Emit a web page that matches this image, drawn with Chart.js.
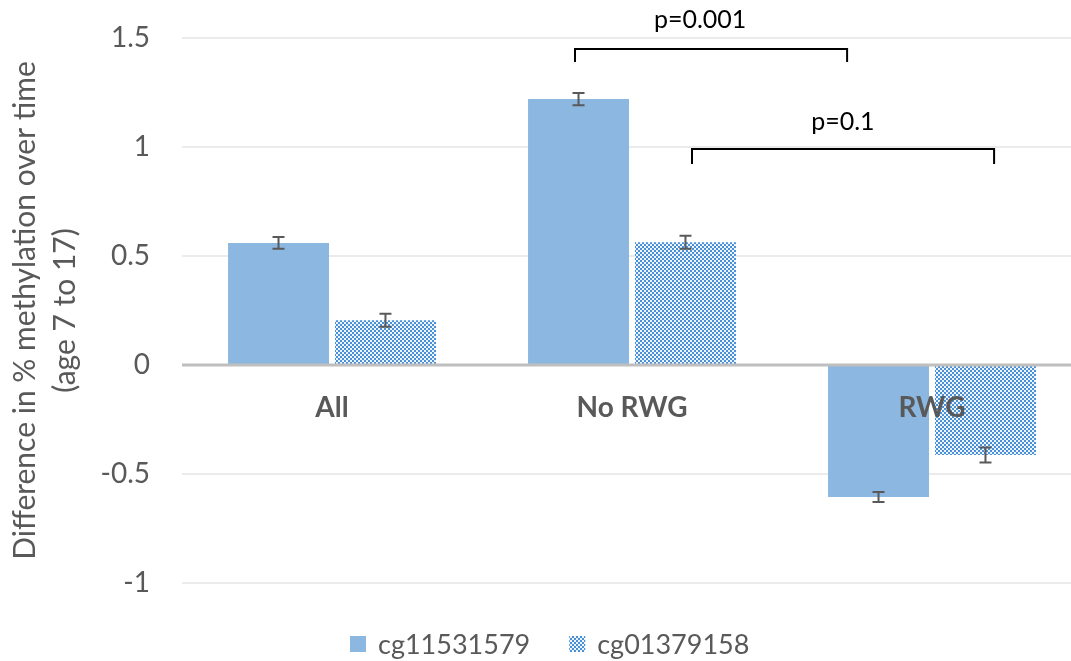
<!DOCTYPE html>
<html><head><meta charset="utf-8">
<script src="https://cdn.jsdelivr.net/npm/chart.js@4"></script>
<style>html,body{margin:0;padding:0;background:#fff;overflow:hidden}#wrap{width:1082px;height:661px}</style>
</head><body><div id="wrap"><canvas id="c"></canvas></div>
<script>
const categories = ['All', 'No RWG', 'RWG'];
const cg11531579 = [0.56, 1.22, -0.605];
const cg01379158 = [0.205, 0.563, -0.413];
const err11531579 = [0.027, 0.028, 0.023];
const err01379158 = [0.03, 0.03, 0.034];
const seriesNames = ['cg11531579', 'cg01379158'];
const sigLabels = ['p=0.001', 'p=0.1'];
const sigFrom = [0.81, 1.2];
const sigTo = [1.717, 2.207];
const sigBarY = [1.45, 0.991];
const sigTickY = [1.39, 0.922];
const sigTextX = [1.227, 1.703];
const sigTextY = [1.583, 1.115];

const FONT = 'Lato';
const GREY = '#595959';

function makePattern() {
  const p = document.createElement('canvas');
  p.width = 4; p.height = 4;
  const g = p.getContext('2d');
  g.fillStyle = '#eef4fb'; g.fillRect(0, 0, 4, 4);
  g.fillStyle = '#4a90d6';
  g.fillRect(0, 0, 2, 2); g.fillRect(2, 2, 2, 2);
  return g.createPattern(p, 'repeat');
}
const ctx = document.getElementById('c').getContext('2d');
const pattern = makePattern();

const overlay = {
  id: 'overlay',
  afterDatasetsDraw(chart) {
    const c = chart.ctx, x = chart.scales.x, y = chart.scales.y, area = chart.chartArea;
    c.save();
    const y0 = y.getPixelForValue(0);
    c.strokeStyle = '#bfbfbf'; c.lineWidth = 3;
    c.beginPath(); c.moveTo(area.left, y0); c.lineTo(area.right, y0); c.stroke();
    const errs = [err11531579, err01379158];
    chart.data.datasets.forEach((ds, di) => {
      const meta = chart.getDatasetMeta(di);
      meta.data.forEach((bar, i) => {
        const v = ds.data[i], e = errs[di][i];
        const yt = y.getPixelForValue(v + e), yb = y.getPixelForValue(v - e);
        c.strokeStyle = GREY; c.lineWidth = 2;
        c.beginPath();
        c.moveTo(bar.x, yt); c.lineTo(bar.x, yb);
        c.moveTo(bar.x - 6, yt); c.lineTo(bar.x + 6, yt);
        c.moveTo(bar.x - 6, yb); c.lineTo(bar.x + 6, yb);
        c.stroke();
      });
    });
    c.fillStyle = GREY; c.font = 'bold 28px ' + FONT;
    c.textAlign = 'center'; c.textBaseline = 'middle';
    categories.forEach((lab, i) => c.fillText(lab, x.getPixelForValue(i), y0 + 43));
    const catW = x.getPixelForValue(1) - x.getPixelForValue(0);
    const px = v => x.getPixelForValue(0) + v * catW;
    c.strokeStyle = '#000'; c.lineWidth = 2; c.fillStyle = '#000';
    c.font = '25px ' + FONT;
    sigLabels.forEach((lab, i) => {
      const xa = px(sigFrom[i]), xb = px(sigTo[i]);
      const yb = y.getPixelForValue(sigBarY[i]), yt = y.getPixelForValue(sigTickY[i]);
      c.beginPath();
      c.moveTo(xa, yt); c.lineTo(xa, yb); c.lineTo(xb, yb); c.lineTo(xb, yt);
      c.stroke();
      c.fillText(lab, px(sigTextX[i]), y.getPixelForValue(sigTextY[i]));
    });
    c.restore();
  },
  afterDraw(chart) {
    // legend below the plot
    const c = chart.ctx;
    c.save();
    c.font = '27px ' + FONT; c.textAlign = 'left'; c.textBaseline = 'middle';
    const cy = 644;
    let lx = 350;
    chart.data.datasets.forEach(ds => {
      c.fillStyle = ds.backgroundColor;
      c.fillRect(lx, cy - 8, 16, 16);
      c.fillStyle = GREY;
      c.fillText(ds.label, lx + 28, cy + 1);
      lx += 28 + c.measureText(ds.label).width + 39;
    });
    c.restore();
  }
};

new Chart(ctx, {
  type: 'bar',
  data: {
    labels: categories,
    datasets: [
      { label: seriesNames[0], data: cg11531579, backgroundColor: '#8bb7e0', borderWidth: 0,
        categoryPercentage: 0.713, barPercentage: 0.944 },
      { label: seriesNames[1], data: cg01379158, backgroundColor: pattern, borderWidth: 0,
        categoryPercentage: 0.713, barPercentage: 0.944 }
    ]
  },
  options: {
    responsive: true, maintainAspectRatio: false, animation: false,
    layout: { padding: { top: 38, left: 0, right: 0, bottom: 0 } },
    plugins: {
      legend: { display: false },
      tooltip: { enabled: false }
    },
    scales: {
      x: {
        ticks: { display: false },
        grid: { display: false, drawTicks: false },
        border: { display: false },
        afterFit: s => { s.height = 78; }
      },
      y: {
        min: -1, max: 1.5,
        ticks: { stepSize: 0.5, color: GREY, font: { family: FONT, size: 28 }, padding: 0,
                 callback: v => String(v) },
        grid: { color: '#ebebeb', lineWidth: 2, drawTicks: true, tickLength: 32, tickColor: 'rgba(0,0,0,0)' },
        border: { display: false },
        title: { display: true, text: ['Difference in % methylation over time', '(age 7 to 17)'],
                 color: GREY, font: { family: FONT, size: 30, lineHeight: 1.33 }, padding: { top: 5, bottom: 0 } },
        afterFit: s => { s.width = 182; }
      }
    }
  },
  plugins: [overlay]
});
</script></body></html>
